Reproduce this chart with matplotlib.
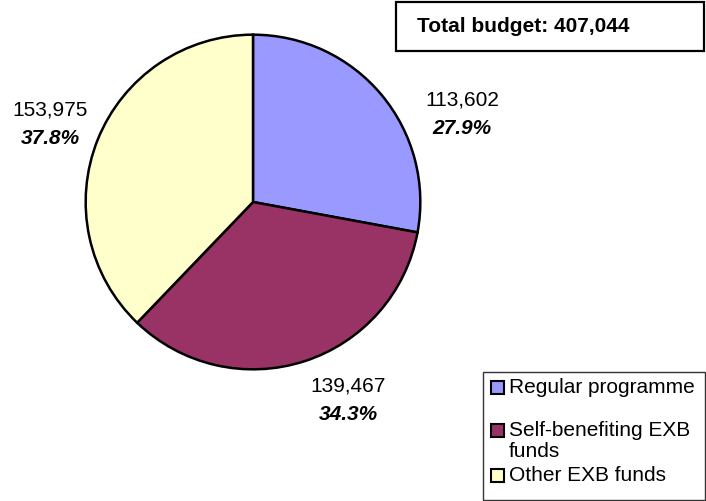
import matplotlib
matplotlib.use("Agg")
import matplotlib.pyplot as plt
from matplotlib.patches import Rectangle

plt.rcParams['font.family'] = ['Liberation Sans', 'DejaVu Sans']

# data
categories = ["Regular programme", "Self-benefiting EXB funds", "Other EXB funds"]
legend_labels = ["Regular programme", "Self-benefiting EXB\nfunds", "Other EXB funds"]
values = [113602, 139467, 153975]
colors = ["#9999FF", "#993366", "#FFFFCC"]

W, H = 706, 502
total = sum(values)


def px(x, y):
    # pixel coords (from top left) -> figure fraction
    return x / W, 1 - y / H


fig = plt.figure(figsize=(W / 100, H / 100), dpi=100)

# pie centred at (253, 203) px, radius 169 px
cx, cy, r = 253, 203, 169
ax = fig.add_axes([(cx - r) / W, (H - cy - r) / H, 2 * r / W, 2 * r / H])
ax.pie(values, colors=colors, startangle=90, counterclock=False,
       wedgeprops=dict(edgecolor="black", linewidth=1.8))
ax.set_xlim(-1.01, 1.01)
ax.set_ylim(-1.01, 1.01)
ax.set_aspect("equal")

# data labels
label_pos = [(462, 100), (348, 386), (50, 110)]
for (x, y), v in zip(label_pos, values):
    fig.text(*px(x, y), f"{v:,}", ha="center", va="center", fontsize=15)
    fig.text(*px(x, y + 28), f"{v / total * 100:.1f}%", ha="center", va="center",
             fontsize=15, fontweight="bold", fontstyle="italic")

# total box
fig.patches.append(Rectangle(px(396, 52), 308 / W, 49 / H, transform=fig.transFigure,
                             facecolor="white", edgecolor="black", linewidth=1.6))
fig.text(*px(417, 27), f"Total budget: {total:,}", ha="left", va="center",
         fontsize=15, fontweight="bold")

# legend
fig.patches.append(Rectangle(px(483, 501), 222 / W, 128 / H, transform=fig.transFigure,
                             facecolor="white", edgecolor="#333333", linewidth=1))
rows = [389, 432, 477]
for y, lab, c in zip(rows, legend_labels, colors):
    fig.patches.append(Rectangle(px(491, y + 6), 13 / W, 13 / H, transform=fig.transFigure,
                                 facecolor=c, edgecolor="black", linewidth=1.5))
    fig.text(*px(509, y - 11), lab, ha="left", va="top", fontsize=15,
             linespacing=1.15)

fig.savefig("out.png", dpi=100)
